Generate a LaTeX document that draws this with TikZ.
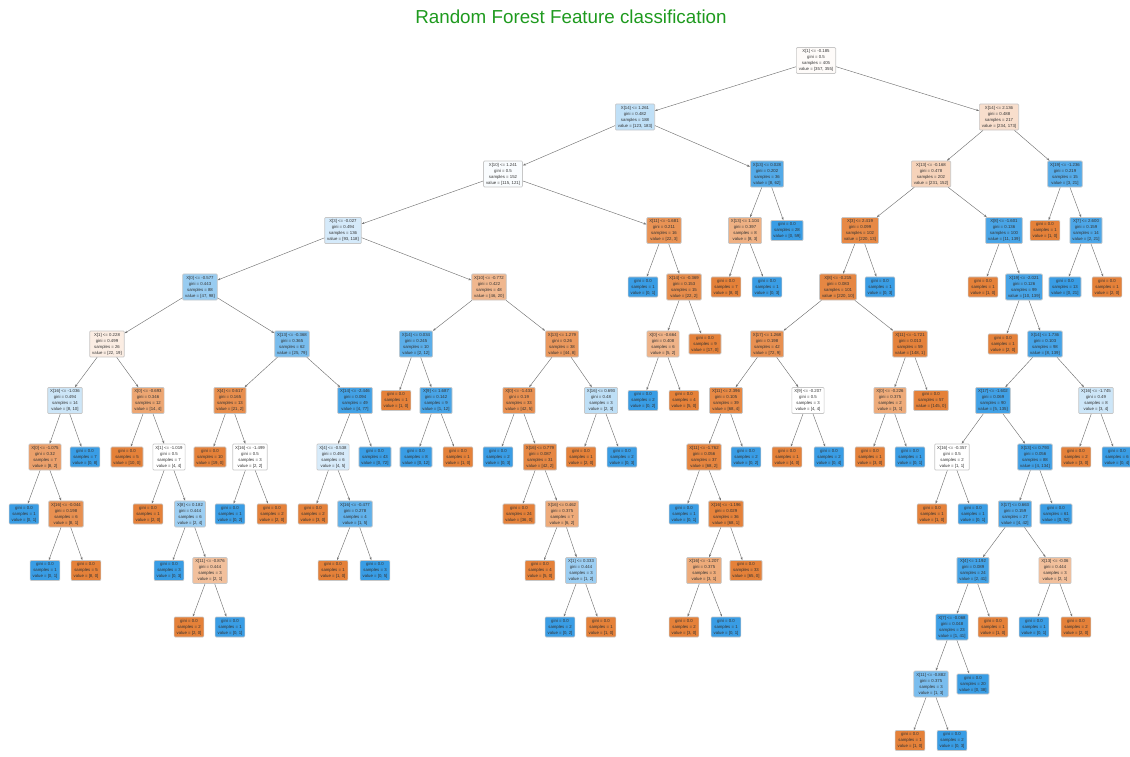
\documentclass[tikz,border=0pt]{standalone}
\usepackage{fontspec}
\setmainfont{Liberation Sans}
\usetikzlibrary{arrows.meta}
\definecolor{orng}{HTML}{E58139}
\definecolor{blu}{HTML}{399DE5}
\definecolor{titlegreen}{HTML}{1E9A1E}
\tikzset{
  box/.style={draw=black!22, line width=0.7pt, rounded corners=1pt, align=center,
    inner xsep=2.5pt, inner ysep=2pt, text=black!80, font=\fontsize{4.3}{6}\selectfont},
  edge/.style={-{Stealth[length=3pt,width=2.2pt]}, draw=black!55, line width=0.45pt}
}
\begin{document}
\begin{tikzpicture}[x=1pt,y=-1pt]
  \useasboundingbox (0,0) rectangle (1130,757);
  \node[font=\fontsize{18.8}{22}\selectfont, text=titlegreen] (title) at (571,17) {Random Forest Feature classification};
  % level 0
  \node[box, fill=orng!3!white] (a1) at (816,60.5) {X[1] <= -0.185\\gini = 0.5\\samples = 405\\value = [357, 355]};
  % level 1
  \node[box, fill=blu!32!white] (b1) at (635,117) {X[14] <= 1.261\\gini = 0.482\\samples = 188\\value = [123, 183]};
  \node[box, fill=orng!26!white] (b2) at (999,117) {X[14] <= 2.136\\gini = 0.488\\samples = 217\\value = [234, 173]};
  % level 2
  \node[box, fill=blu!3!white] (c1) at (503,174) {X[10] <= 1.241\\gini = 0.5\\samples = 152\\value = [115, 121]};
  \node[box, fill=blu!87!white] (c2) at (767,174) {X[13] <= 0.028\\gini = 0.202\\samples = 36\\value = [8, 62]};
  \node[box, fill=orng!35!white] (c3) at (931,174) {X[13] <= -0.168\\gini = 0.478\\samples = 202\\value = [231, 152]};
  \node[box, fill=blu!86!white] (c4) at (1065,174) {X[19] <= -1.236\\gini = 0.219\\samples = 15\\value = [3, 21]};
  % level 3
  \node[box, fill=blu!21!white] (d1) at (343,230.5) {X[3] <= -0.027\\gini = 0.494\\samples = 136\\value = [93, 118]};
  \node[box, fill=orng!86!white] (d2) at (664,230.5) {X[11] <= -1.681\\gini = 0.211\\samples = 16\\value = [22, 3]};
  \node[box, fill=orng!62!white] (d3) at (745,230.5) {X[13] <= 1.104\\gini = 0.397\\samples = 8\\value = [8, 3]};
  \node[box, fill=blu] (d4) at (787,230.5) {gini = 0.0\\samples = 28\\value = [0, 59]};
  \node[box, fill=orng!94!white] (d5) at (860,230.5) {X[3] <= 2.419\\gini = 0.099\\samples = 102\\value = [220, 13]};
  \node[box, fill=blu!92!white] (d6) at (1004,230.5) {X[8] <= -1.601\\gini = 0.136\\samples = 100\\value = [11, 139]};
  \node[box, fill=orng] (d7) at (1045,230.5) {gini = 0.0\\samples = 1\\value = [1, 0]};
  \node[box, fill=blu!90!white] (d8) at (1086,230.5) {X[7] <= 2.600\\gini = 0.159\\samples = 14\\value = [2, 21]};
  % level 4
  \node[box, fill=blu!52!white] (e1) at (200,287) {X[0] <= -0.577\\gini = 0.443\\samples = 88\\value = [47, 98]};
  \node[box, fill=orng!57!white] (e2) at (489,287) {X[10] <= -0.772\\gini = 0.422\\samples = 48\\value = [46, 20]};
  \node[box, fill=blu] (e3) at (643,287) {gini = 0.0\\samples = 1\\value = [0, 1]};
  \node[box, fill=orng!91!white] (e4) at (684,287) {X[14] <= -0.369\\gini = 0.153\\samples = 15\\value = [22, 2]};
  \node[box, fill=orng] (e5) at (726,287) {gini = 0.0\\samples = 7\\value = [8, 0]};
  \node[box, fill=blu] (e6) at (767,287) {gini = 0.0\\samples = 1\\value = [0, 3]};
  \node[box, fill=orng!95!white] (e7) at (838,287) {X[8] <= -0.215\\gini = 0.083\\samples = 101\\value = [220, 10]};
  \node[box, fill=blu] (e8) at (880,287) {gini = 0.0\\samples = 1\\value = [0, 3]};
  \node[box, fill=orng] (e9) at (983,287) {gini = 0.0\\samples = 1\\value = [1, 0]};
  \node[box, fill=blu!93!white] (e10) at (1024,287) {X[19] <= -2.021\\gini = 0.126\\samples = 99\\value = [10, 139]};
  \node[box, fill=blu] (e11) at (1065,287) {gini = 0.0\\samples = 13\\value = [0, 21]};
  \node[box, fill=orng] (e12) at (1107,287) {gini = 0.0\\samples = 1\\value = [2, 0]};
  % level 5
  \node[box, fill=orng!14!white] (f1) at (107,344) {X[1] <= 0.228\\gini = 0.499\\samples = 26\\value = [22, 19]};
  \node[box, fill=blu!68!white] (f2) at (292,344) {X[13] <= -0.368\\gini = 0.365\\samples = 62\\value = [25, 79]};
  \node[box, fill=blu!83!white] (f3) at (416,344) {X[14] <= 0.034\\gini = 0.245\\samples = 10\\value = [2, 12]};
  \node[box, fill=orng!82!white] (f4) at (562,344) {X[13] <= 1.279\\gini = 0.26\\samples = 38\\value = [44, 8]};
  \node[box, fill=orng!60!white] (f5) at (663,344) {X[0] <= -0.664\\gini = 0.408\\samples = 6\\value = [5, 2]};
  \node[box, fill=orng] (f6) at (705,344) {gini = 0.0\\samples = 9\\value = [17, 0]};
  \node[box, fill=orng!88!white] (f7) at (767,344) {X[17] <= 1.268\\gini = 0.198\\samples = 42\\value = [72, 9]};
  \node[box, fill=orng!99!white] (f8) at (910,344) {X[11] <= -1.721\\gini = 0.013\\samples = 59\\value = [148, 1]};
  \node[box, fill=orng] (f9) at (1003,344) {gini = 0.0\\samples = 1\\value = [2, 0]};
  \node[box, fill=blu!94!white] (f10) at (1045,344) {X[14] <= 1.736\\gini = 0.103\\samples = 98\\value = [8, 139]};
  % level 6
  \node[box, fill=blu!25!white] (g1) at (65,400.5) {X[16] <= -1.036\\gini = 0.494\\samples = 14\\value = [8, 10]};
  \node[box, fill=orng!71!white] (g2) at (148,400.5) {X[0] <= -0.693\\gini = 0.346\\samples = 12\\value = [14, 4]};
  \node[box, fill=orng!90!white] (g3) at (230,400.5) {X[4] <= 0.617\\gini = 0.165\\samples = 13\\value = [21, 2]};
  \node[box, fill=blu!95!white] (g4) at (355,400.5) {X[14] <= -2.446\\gini = 0.094\\samples = 49\\value = [4, 77]};
  \node[box, fill=orng] (g5) at (396,400.5) {gini = 0.0\\samples = 1\\value = [1, 0]};
  \node[box, fill=blu!92!white] (g6) at (436,400.5) {X[9] <= 1.687\\gini = 0.142\\samples = 9\\value = [1, 12]};
  \node[box, fill=orng!88!white] (g7) at (519,400.5) {X[0] <= -1.433\\gini = 0.19\\samples = 33\\value = [42, 5]};
  \node[box, fill=blu!33!white] (g8) at (601,400.5) {X[16] <= 0.693\\gini = 0.48\\samples = 3\\value = [2, 3]};
  \node[box, fill=blu] (g9) at (643,400.5) {gini = 0.0\\samples = 2\\value = [0, 2]};
  \node[box, fill=orng] (g10) at (684,400.5) {gini = 0.0\\samples = 4\\value = [5, 0]};
  \node[box, fill=orng!94!white] (g11) at (726,400.5) {X[11] <= 2.396\\gini = 0.105\\samples = 39\\value = [68, 4]};
  \node[box, fill=white] (g12) at (808,400.5) {X[9] <= -0.207\\gini = 0.5\\samples = 3\\value = [4, 4]};
  \node[box, fill=orng!67!white] (g13) at (890,400.5) {X[0] <= -0.226\\gini = 0.375\\samples = 2\\value = [3, 1]};
  \node[box, fill=orng] (g14) at (931,400.5) {gini = 0.0\\samples = 57\\value = [145, 0]};
  \node[box, fill=blu!96!white] (g15) at (993,400.5) {X[17] <= -1.602\\gini = 0.069\\samples = 90\\value = [5, 135]};
  \node[box, fill=blu!25!white] (g16) at (1096,400.5) {X[16] <= -1.745\\gini = 0.49\\samples = 8\\value = [3, 4]};
  % level 7
  \node[box, fill=orng!75!white] (h1) at (45,457) {X[0] <= -1.075\\gini = 0.32\\samples = 7\\value = [8, 2]};
  \node[box, fill=blu] (h2) at (85,457) {gini = 0.0\\samples = 7\\value = [0, 8]};
  \node[box, fill=orng] (h3) at (127,457) {gini = 0.0\\samples = 5\\value = [10, 0]};
  \node[box, fill=white] (h4) at (169,457) {X[1] <= -1.019\\gini = 0.5\\samples = 7\\value = [4, 4]};
  \node[box, fill=orng] (h5) at (210,457) {gini = 0.0\\samples = 10\\value = [19, 0]};
  \node[box, fill=white] (h6) at (250,457) {X[16] <= -1.499\\gini = 0.5\\samples = 3\\value = [2, 2]};
  \node[box, fill=blu!20!white] (h7) at (333,457) {X[4] <= -0.538\\gini = 0.494\\samples = 6\\value = [4, 5]};
  \node[box, fill=blu] (h8) at (375,457) {gini = 0.0\\samples = 43\\value = [0, 72]};
  \node[box, fill=blu] (h9) at (416,457) {gini = 0.0\\samples = 8\\value = [0, 12]};
  \node[box, fill=orng] (h10) at (458,457) {gini = 0.0\\samples = 1\\value = [1, 0]};
  \node[box, fill=blu] (h11) at (498,457) {gini = 0.0\\samples = 2\\value = [0, 3]};
  \node[box, fill=orng!95!white] (h12) at (540,457) {X[16] <= 0.779\\gini = 0.087\\samples = 31\\value = [42, 2]};
  \node[box, fill=orng] (h13) at (581,457) {gini = 0.0\\samples = 1\\value = [2, 0]};
  \node[box, fill=blu] (h14) at (622,457) {gini = 0.0\\samples = 2\\value = [0, 3]};
  \node[box, fill=orng!97!white] (h15) at (704,457) {X[11] <= -1.762\\gini = 0.056\\samples = 37\\value = [68, 2]};
  \node[box, fill=blu] (h16) at (746,457) {gini = 0.0\\samples = 2\\value = [0, 2]};
  \node[box, fill=orng] (h17) at (787,457) {gini = 0.0\\samples = 1\\value = [4, 0]};
  \node[box, fill=blu] (h18) at (829,457) {gini = 0.0\\samples = 2\\value = [0, 4]};
  \node[box, fill=orng] (h19) at (870,457) {gini = 0.0\\samples = 1\\value = [3, 0]};
  \node[box, fill=blu] (h20) at (910,457) {gini = 0.0\\samples = 1\\value = [0, 1]};
  \node[box, fill=white] (h21) at (952,457) {X[16] <= -0.357\\gini = 0.5\\samples = 2\\value = [1, 1]};
  \node[box, fill=blu!97!white] (h22) at (1035,457) {X[13] <= 0.793\\gini = 0.056\\samples = 88\\value = [4, 134]};
  \node[box, fill=orng] (h23) at (1076,457) {gini = 0.0\\samples = 2\\value = [3, 0]};
  \node[box, fill=blu] (h24) at (1117,457) {gini = 0.0\\samples = 6\\value = [0, 4]};
  % level 8
  \node[box, fill=blu] (i1) at (24,514) {gini = 0.0\\samples = 1\\value = [0, 1]};
  \node[box, fill=orng!88!white] (i2) at (66,514) {X[16] <= -0.044\\gini = 0.198\\samples = 6\\value = [8, 1]};
  \node[box, fill=orng] (i3) at (148,514) {gini = 0.0\\samples = 1\\value = [2, 0]};
  \node[box, fill=blu!50!white] (i4) at (190,514) {X[8] <= 0.182\\gini = 0.444\\samples = 6\\value = [2, 4]};
  \node[box, fill=blu] (i5) at (230,514) {gini = 0.0\\samples = 1\\value = [0, 2]};
  \node[box, fill=orng] (i6) at (272,514) {gini = 0.0\\samples = 2\\value = [2, 0]};
  \node[box, fill=orng] (i7) at (313,514) {gini = 0.0\\samples = 2\\value = [3, 0]};
  \node[box, fill=blu!80!white] (i8) at (355,514) {X[16] <= -0.477\\gini = 0.278\\samples = 4\\value = [1, 5]};
  \node[box, fill=orng] (i9) at (519,514) {gini = 0.0\\samples = 24\\value = [36, 0]};
  \node[box, fill=orng!67!white] (i10) at (562,514) {X[16] <= 0.462\\gini = 0.375\\samples = 7\\value = [6, 2]};
  \node[box, fill=blu] (i11) at (684,514) {gini = 0.0\\samples = 1\\value = [0, 1]};
  \node[box, fill=orng!99!white] (i12) at (726,514) {X[16] <= -1.196\\gini = 0.029\\samples = 36\\value = [68, 1]};
  \node[box, fill=orng] (i13) at (932,514) {gini = 0.0\\samples = 1\\value = [1, 0]};
  \node[box, fill=blu] (i14) at (973,514) {gini = 0.0\\samples = 1\\value = [0, 1]};
  \node[box, fill=blu!90!white] (i15) at (1015,514) {X[17] <= 0.663\\gini = 0.159\\samples = 27\\value = [4, 42]};
  \node[box, fill=blu] (i16) at (1056,514) {gini = 0.0\\samples = 61\\value = [0, 92]};
  % level 9
  \node[box, fill=blu] (j1) at (45,570.5) {gini = 0.0\\samples = 1\\value = [0, 1]};
  \node[box, fill=orng] (j2) at (86,570.5) {gini = 0.0\\samples = 5\\value = [8, 0]};
  \node[box, fill=blu] (j3) at (169,570.5) {gini = 0.0\\samples = 3\\value = [0, 3]};
  \node[box, fill=orng!50!white] (j4) at (210,570.5) {X[11] <= -0.876\\gini = 0.444\\samples = 3\\value = [2, 1]};
  \node[box, fill=orng] (j5) at (333,570.5) {gini = 0.0\\samples = 1\\value = [1, 0]};
  \node[box, fill=blu] (j6) at (375,570.5) {gini = 0.0\\samples = 3\\value = [0, 5]};
  \node[box, fill=orng] (j7) at (540,570.5) {gini = 0.0\\samples = 4\\value = [5, 0]};
  \node[box, fill=blu!50!white] (j8) at (581,570.5) {X[1] <= 0.333\\gini = 0.444\\samples = 3\\value = [1, 2]};
  \node[box, fill=orng!67!white] (j9) at (704,570.5) {X[16] <= -1.207\\gini = 0.375\\samples = 3\\value = [3, 1]};
  \node[box, fill=orng] (j10) at (746,570.5) {gini = 0.0\\samples = 33\\value = [65, 0]};
  \node[box, fill=blu!95!white] (j11) at (973,570.5) {X[4] <= 1.192\\gini = 0.089\\samples = 24\\value = [2, 41]};
  \node[box, fill=orng!50!white] (j12) at (1055,570.5) {X[13] <= -0.06\\gini = 0.444\\samples = 3\\value = [2, 1]};
  % level 10
  \node[box, fill=orng] (k1) at (189,627) {gini = 0.0\\samples = 2\\value = [2, 0]};
  \node[box, fill=blu] (k2) at (230,627) {gini = 0.0\\samples = 1\\value = [0, 1]};
  \node[box, fill=blu] (k3) at (560,627) {gini = 0.0\\samples = 2\\value = [0, 2]};
  \node[box, fill=orng] (k4) at (601,627) {gini = 0.0\\samples = 1\\value = [1, 0]};
  \node[box, fill=orng] (k5) at (684,627) {gini = 0.0\\samples = 2\\value = [3, 0]};
  \node[box, fill=blu] (k6) at (726,627) {gini = 0.0\\samples = 1\\value = [0, 1]};
  \node[box, fill=blu!98!white] (k7) at (952,627) {X[7] <= -0.068\\gini = 0.048\\samples = 23\\value = [1, 41]};
  \node[box, fill=orng] (k8) at (993,627) {gini = 0.0\\samples = 1\\value = [1, 0]};
  \node[box, fill=blu] (k9) at (1034,627) {gini = 0.0\\samples = 1\\value = [0, 1]};
  \node[box, fill=orng] (k10) at (1076,627) {gini = 0.0\\samples = 2\\value = [2, 0]};
  % level 11
  \node[box, fill=blu!67!white] (l1) at (931,684) {X[11] <= -0.882\\gini = 0.375\\samples = 3\\value = [1, 3]};
  \node[box, fill=blu] (l2) at (973,684) {gini = 0.0\\samples = 20\\value = [0, 38]};
  % level 12
  \node[box, fill=orng] (m1) at (910,740.5) {gini = 0.0\\samples = 1\\value = [1, 0]};
  \node[box, fill=blu] (m2) at (952,740.5) {gini = 0.0\\samples = 2\\value = [0, 3]};
  % connectors
  \foreach \p/\c in {a1/b1, a1/b2, b1/c1, b1/c2, b2/c3, b2/c4,
      c1/d1, c1/d2, c2/d3, c2/d4, c3/d5, c3/d6, c4/d7, c4/d8,
      d1/e1, d1/e2, d2/e3, d2/e4, d3/e5, d3/e6, d5/e7, d5/e8, d6/e9, d6/e10, d8/e11, d8/e12,
      e1/f1, e1/f2, e2/f3, e2/f4, e4/f5, e4/f6, e7/f7, e7/f8, e10/f9, e10/f10,
      f1/g1, f1/g2, f2/g3, f2/g4, f3/g5, f3/g6, f4/g7, f4/g8, f5/g9, f5/g10,
      f7/g11, f7/g12, f8/g13, f8/g14, f10/g15, f10/g16,
      g1/h1, g1/h2, g2/h3, g2/h4, g3/h5, g3/h6, g4/h7, g4/h8, g6/h9, g6/h10,
      g7/h11, g7/h12, g8/h13, g8/h14, g11/h15, g11/h16, g12/h17, g12/h18,
      g13/h19, g13/h20, g15/h21, g15/h22, g16/h23, g16/h24,
      h1/i1, h1/i2, h4/i3, h4/i4, h6/i5, h6/i6, h7/i7, h7/i8,
      h12/i9, h12/i10, h15/i11, h15/i12, h21/i13, h21/i14, h22/i15, h22/i16,
      i2/j1, i2/j2, i4/j3, i4/j4, i8/j5, i8/j6, i10/j7, i10/j8, i12/j9, i12/j10, i15/j11, i15/j12,
      j4/k1, j4/k2, j8/k3, j8/k4, j9/k5, j9/k6, j11/k7, j11/k8, j12/k9, j12/k10,
      k7/l1, k7/l2, l1/m1, l1/m2}
    \draw[edge] (\p) -- (\c);
\end{tikzpicture}
\end{document}
